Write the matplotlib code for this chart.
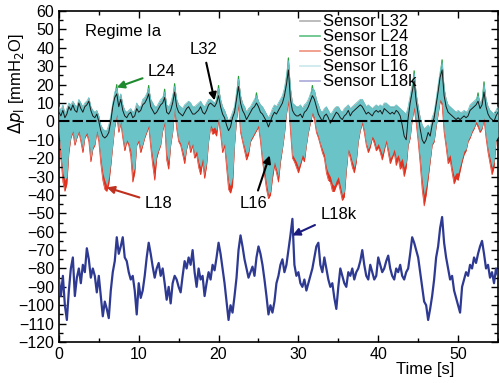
import numpy as np
import matplotlib.pyplot as plt
from matplotlib.ticker import MultipleLocator

plt.rcParams['font.family'] = ['Liberation Sans', 'DejaVu Sans']

time = np.arange(221) * 0.25

# L16: upper and lower edge of the dense cyan trace
l16_top = [8, 6, 9, 4, 7, 10, 9, 11, 9, 8, 12, 10, 8, 10, 11, 13, 8, 6, 5, 6,
           3, -2, -4, -5, -5, -2, 3, 10, 16, 18, 12, 15, 9, 6, 5, 6, 7, 5, 6, 10,
           8, 8, 12, 13, 15, 18, 12, 10, 8, 8, 10, 12, 13, 16, 9, 8, 10, 14, 19, 12,
           9, 8, 7, 9, 10, 11, 10, 8, 8, 9, 10, 11, 9, 8, 10, 12, 12, 11, 10, 12,
           18, 12, 8, 6, 3, 0, 2, 5, 8, 16, 23, 14, 10, 8, 5, 7, 8, 10, 12, 14,
           11, 9, 8, 6, 4, 2, 4, 7, 9, 8, 10, 12, 14, 18, 25, 33, 18, 10, 9, 8,
           8, 9, 7, 9, 10, 12, 15, 18, 17, 12, 9, 6, 5, 7, 8, 6, 4, 5, 7, 8,
           8, 6, 5, 7, 8, 9, 7, 8, 9, 10, 11, 12, 12, 10, 8, 9, 8, 7, 8, 9,
           8, 9, 8, 10, 10, 9, 8, 8, 8, 9, 8, 7, 6, 5, 4, 8, 14, 20, 26, 15,
           8, 2, -2, -4, -3, -2, -4, 2, 5, 12, 20, 27, 32, 18, 12, 9, 8, 7, 6, 5,
           6, 5, 5, 6, 5, 6, 9, 10, 11, 12, 14, 10, 12, 20, 12, 8, 6, 5, 4, 6,
           8]
l16_low = [-5, -18, -28, -32, -30, -15, -8, -5, -12, -8, -5, -10, -15, -8, -6, -10, -20, -14, -12, -5,
           -10, -20, -28, -32, -35, -30, -22, -12, -2, 4, -5, 0, -8, -14, -10, -12, -16, -28, -25, -12,
           -10, -15, -12, -8, -5, -2, -12, -20, -25, -18, -15, -12, -4, 0, -18, -22, -12, -5, 8, -3,
           -10, -12, -16, -20, -14, -10, -15, -12, -18, -16, -22, -25, -20, -28, -22, -10, -2, -4, -3, -5,
           2, -6, -15, -12, -22, -33, -35, -30, -12, 2, 10, -5, -10, -14, -18, -16, -10, -8, -6, -4,
           -2, -10, -20, -26, -34, -40, -38, -28, -22, -26, -30, -20, -14, -6, 5, 12, -4, -18, -20, -22,
           -25, -22, -18, -20, -12, -5, 0, 5, 2, -5, -8, -12, -15, -18, -25, -28, -30, -34, -35, -32,
           -30, -35, -40, -38, -25, -15, -18, -22, -25, -20, -10, -4, 0, -5, -12, -15, -12, -8, -10, -14,
           -12, -15, -18, -14, -10, -15, -20, -18, -15, -20, -18, -22, -20, -25, -22, -12, -8, 2, 8, 0,
           -10, -20, -32, -40, -35, -28, -20, -12, -10, -2, 5, 12, 10, -5, -12, -20, -18, -25, -30, -28,
           -28, -24, -20, -16, -15, -10, -8, -5, -3, 0, -2, -5, -3, 2, -8, -15, -20, -25, -22, -10,
           -8]
# L18: only its lower excursions show below the cyan band
l18_low = [-6, -20, -33, -38, -34, -17, -9, -6, -13, -9, -6, -11, -17, -9, -7, -11, -22, -15, -13, -6,
           -11, -23, -32, -37, -38, -34, -24, -13, -3, 3, -6, -1, -9, -16, -11, -13, -19, -33, -28, -13,
           -11, -17, -13, -9, -6, -3, -14, -24, -32, -20, -16, -13, -5, -1, -21, -26, -13, -6, 7, -4,
           -11, -13, -18, -23, -15, -11, -17, -13, -20, -18, -25, -29, -22, -31, -24, -11, -3, -7, -6, -8,
           1, -7, -17, -13, -25, -37, -39, -35, -13, 1, 9, -6, -11, -16, -21, -18, -11, -9, -7, -5,
           -3, -11, -22, -29, -37, -42, -40, -31, -24, -28, -33, -22, -15, -7, 4, 11, -5, -20, -22, -25,
           -28, -24, -20, -22, -13, -6, -1, 4, 1, -6, -9, -13, -17, -20, -28, -32, -33, -38, -38, -35,
           -33, -38, -43, -41, -27, -16, -20, -25, -28, -22, -11, -5, -1, -6, -13, -17, -14, -9, -12, -16,
           -14, -17, -21, -16, -11, -17, -23, -20, -17, -24, -20, -26, -24, -30, -25, -13, -9, 1, 7, -1,
           -11, -23, -37, -46, -40, -31, -22, -13, -11, -3, 4, 11, 9, -6, -14, -23, -21, -28, -34, -31,
           -32, -27, -22, -18, -16, -11, -9, -6, -4, -1, -3, -6, -4, 1, -9, -17, -23, -29, -25, -11,
           -9]
l32 = [5, 3, 6, 2, 4, 8, 6, 9, 6, 5, 10, 7, 5, 8, 9, 11, 6, 3, 2, 4,
       0, -5, -8, -9, -8, -6, 0, 8, 13, 15, 8, 12, 6, 3, 2, 4, 5, 2, 3, 7,
       5, 6, 9, 10, 12, 15, 8, 6, 4, 5, 7, 9, 10, 13, 5, 4, 6, 10, 16, 8,
       5, 4, 3, 5, 7, 8, 6, 4, 4, 5, 6, 8, 5, 4, 6, 9, 10, 9, 8, 10,
       14, 8, 4, 2, -2, -5, -3, 2, 5, 12, 19, 10, 6, 4, 1, 3, 5, 7, 8, 10,
       8, 5, 4, 2, 0, -3, 0, 3, 5, 4, 6, 8, 10, 14, 20, 28, 12, 6, 4, 3,
       3, 4, 2, 5, 6, 8, 11, 14, 12, 8, 4, 2, 0, 3, 4, 2, -1, 1, 3, 5,
       4, 2, 1, 3, 4, 6, 3, 5, 6, 7, 8, 9, 8, 6, 4, 5, 4, 3, 5, 6,
       5, 6, 4, 7, 6, 5, 4, 5, 4, 6, 5, 3, -2, -8, -10, 2, 10, 16, 22, 11,
       4, -4, -10, -12, -10, -6, -8, -2, 2, 9, 16, 24, 28, 14, 8, 5, 4, 3, 2, 1,
       2, 1, 2, 3, 2, 3, 6, 7, 8, 9, 11, 7, 9, 16, 8, 4, 2, 1, 0, 3,
       5]
l24 = [5, 3, 6, 2, 4, 8, 6, 9, 6, 5, 10, 7, 5, 8, 9, 11, 6, 3, 2, 4,
       0, -5, -8, -9, -8, -6, 0, 8, 13, 20, 8, 12, 6, 3, 2, 4, 5, 2, 3, 7,
       5, 6, 9, 10, 12, 19.5, 8, 6, 4, 5, 7, 9, 10, 17.5, 5, 4, 6, 10, 20.5, 8,
       5, 4, 3, 5, 7, 8, 6, 4, 4, 5, 6, 8, 5, 4, 6, 9, 10, 9, 8, 10,
       19.5, 8, 4, 2, -2, -5, -3, 2, 5, 12, 24.5, 10, 6, 4, 1, 3, 5, 7, 8, 15.5,
       8, 5, 4, 2, 0, -3, 0, 3, 5, 4, 6, 8, 10, 14, 20, 34.5, 12, 6, 4, 3,
       3, 4, 2, 5, 6, 8, 11, 19.5, 12, 8, 4, 2, 0, 3, 4, 2, -1, 1, 3, 5,
       4, 2, 1, 3, 4, 6, 3, 5, 6, 7, 8, 9, 8, 6, 4, 5, 4, 3, 5, 6,
       5, 6, 4, 7, 6, 5, 4, 5, 4, 6, 5, 3, -2, -8, -10, 2, 10, 16, 27.5, 11,
       4, -4, -10, -12, -10, -6, -8, -2, 2, 9, 16, 24, 33.5, 14, 8, 5, 4, 3, 2, 1,
       2, 1, 2, 3, 2, 3, 6, 7, 8, 9, 15.5, 7, 9, 21.5, 8, 4, 2, 1, 0, 3,
       5]
l18k = [-86, -95, -84, -100, -108, -92, -80, -74, -95, -85, -80, -88, -78, -82, -69, -75, -85, -80, -84, -93,
        -84, -95, -106, -98, -102, -107, -92, -82, -76, -63, -72, -68, -63, -74, -76, -82, -86, -84, -92, -105,
        -88, -96, -92, -84, -74, -66, -72, -79, -85, -80, -77, -84, -80, -88, -97, -90, -99, -88, -84, -86,
        -90, -93, -84, -76, -80, -74, -78, -70, -82, -90, -80, -86, -84, -95, -88, -82, -86, -78, -81, -74,
        -66, -72, -80, -88, -98, -108, -100, -104, -95, -85, -70, -62, -68, -75, -80, -85, -82, -79, -84, -74,
        -68, -72, -78, -86, -95, -105, -100, -104, -98, -88, -84, -78, -75, -82, -78, -70, -62, -53, -78, -84,
        -82, -88, -90, -86, -92, -88, -84, -80, -74, -68, -66, -78, -82, -74, -80, -86, -90, -88, -96, -102,
        -90, -80, -84, -88, -90, -82, -84, -80, -86, -82, -80, -76, -70, -78, -84, -86, -78, -82, -86, -84,
        -74, -78, -82, -80, -76, -73, -80, -84, -86, -80, -82, -78, -84, -86, -82, -80, -72, -63, -66, -70,
        -74, -82, -90, -98, -100, -108, -102, -95, -86, -74, -68, -58, -52, -66, -74, -80, -86, -84, -92, -96,
        -100, -104, -90, -86, -82, -84, -78, -80, -74, -77, -72, -68, -65, -72, -80, -78, -85, -82, -88, -80,
        -84]

c_blk = '#1a1a1a'
c_grn = '#2a9a3a'
c_red = '#e0321e'
c_cyn = '#69c3c7'
c_blu = '#2e3a92'

fig = plt.figure(figsize=(4.99, 3.83), dpi=100)
ax = fig.add_axes([0.118, 0.107, 0.88, 0.864])

# red sits underneath, so only its deeper troughs peek out below the cyan
ax.fill_between(time, l18_low, l16_top, color=c_red, lw=0, zorder=1)
h18, = ax.plot(time, l18_low, color=c_red, lw=0.5, zorder=1)
h24, = ax.plot(time, l24, color=c_grn, lw=0.9, zorder=2)
ax.fill_between(time, l16_low, l16_top, color=c_cyn, lw=0, zorder=3)
h16, = ax.plot(time, l16_top, color=c_cyn, lw=0.6, zorder=3)
h32, = ax.plot(time, l32, color=c_blk, lw=0.7, zorder=4)
h18k, = ax.plot(time, l18k, color=c_blu, lw=1.6, zorder=4)
ax.axhline(0, color='k', ls=(0, (5, 1.5)), lw=1.5, zorder=5)

ax.set_xlim(0, 55)
ax.set_ylim(-120, 60)
ax.xaxis.set_major_locator(MultipleLocator(10))
ax.xaxis.set_minor_locator(MultipleLocator(5))
ax.yaxis.set_major_locator(MultipleLocator(10))
ax.yaxis.set_minor_locator(MultipleLocator(5))
ax.tick_params(which='both', direction='in', top=True, right=True, labelsize=11.5)
ax.tick_params(which='major', length=5, width=1)
ax.tick_params(which='minor', length=3, width=1)
for s in ax.spines.values():
    s.set_linewidth(1.2)

ax.set_xlabel('Time [s]', fontsize=12)
ax.xaxis.set_label_coords(0.834, -0.06)
ax.set_ylabel(r'$\Delta p_\mathrm{l}$ [mmH$_2$O]', fontsize=12)
ax.yaxis.set_label_coords(-0.073, 0.78)

ax.text(0.059, 0.937, 'Regime Ia', transform=ax.transAxes, fontsize=12,
        ha='left', va='center')

leg = ax.legend([h32, h24, h18, h16, h18k],
                ['Sensor L32', 'Sensor L24', 'Sensor L18', 'Sensor L16', 'Sensor L18k'],
                loc='upper left', bbox_to_anchor=(0.549, 0.99), frameon=False,
                fontsize=12, handlelength=1.2, handletextpad=0.2, borderpad=0,
                borderaxespad=0, labelspacing=0.0)
for ln, col in zip(leg.get_lines(), ['#b0b0b0', '#5cc080', '#f0907a', '#c8e8ec', '#a8a8d8']):
    ln.set_color(col)
    ln.set_linewidth(1.2)
leg.set_zorder(6)

# callouts
notes = [('L24', (7.25, 18.5), (12.9, 27.2), '#1e8a2e'),
         ('L32', (19.5, 11.4), (18.1, 39.0), 'k'),
         ('L18', (6.0, -35.9), (12.5, -44.6), '#c0301e'),
         ('L16', (26.4, -18.5), (24.4, -44.6), 'k'),
         ('L18k', (29.25, -62.0), (35.0, -50.5), '#1c1c80')]
for txt, xy, xyt, col in notes:
    ax.annotate(txt, xy=xy, xytext=xyt, fontsize=12, ha='center', va='center',
                zorder=7,
                arrowprops=dict(arrowstyle='-|>', color=col, lw=1.5,
                                mutation_scale=11, shrinkA=2, shrinkB=0))

fig.savefig('out.png', dpi=100)
